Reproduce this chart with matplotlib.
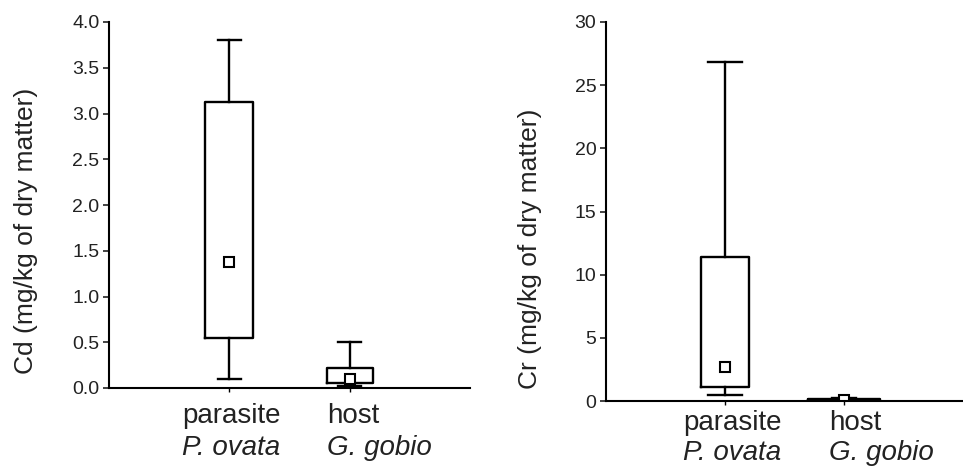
import matplotlib
matplotlib.use("Agg")
import matplotlib.pyplot as plt

plt.rcParams['font.family'] = ['Liberation Sans', 'DejaVu Sans']

# group labels
groups = ["parasite", "host"]
species = ["P. ovata", "G. gobio"]

# Cd (mg/kg dry matter): whisker low, Q1, Q3, whisker high, mean
cd_low = [0.10, 0.02]
cd_q1 = [0.55, 0.05]
cd_q3 = [3.13, 0.22]
cd_high = [3.80, 0.50]
cd_mean = [1.38, 0.10]
cd_ticks = [0.0, 0.5, 1.0, 1.5, 2.0, 2.5, 3.0, 3.5, 4.0]

# Cr (mg/kg dry matter)
cr_low = [0.5, 0.02]
cr_q1 = [1.1, 0.05]
cr_q3 = [11.4, 0.15]
cr_high = [26.8, 0.20]
cr_mean = [2.7, 0.10]
cr_ticks = [0, 5, 10, 15, 20, 25, 30]

W, H = 963, 466
fig = plt.figure(figsize=(W / 100, H / 100), dpi=100)


def make_stats(low, q1, q3, high, mean):
    stats = []
    for i in range(len(low)):
        stats.append(dict(whislo=low[i], q1=q1[i], med=mean[i], q3=q3[i],
                          whishi=high[i], mean=mean[i], fliers=[]))
    return stats


def draw_panel(rect, stats, ticks, ylim, widths, capw, fmt, ylabel, lab_xy, text_x, text_y):
    ax = fig.add_axes(rect)
    lw = 1.7
    ax.bxp(stats, positions=[1, 2], widths=widths, capwidths=capw,
           showmeans=True, showfliers=False,
           boxprops=dict(color='black', linewidth=lw),
           whiskerprops=dict(color='black', linewidth=lw),
           capprops=dict(color='black', linewidth=lw),
           medianprops=dict(linewidth=0),
           meanprops=dict(marker='s', markerfacecolor='white', markeredgecolor='black',
                          markersize=7, markeredgewidth=1.5))
    ax.set_xlim(0, 3)
    ax.set_ylim(*ylim)
    ax.set_yticks(ticks)
    ax.set_yticklabels([fmt.format(t) for t in ticks])
    ax.set_xticks([1, 2])
    ax.set_xticklabels(["", ""])
    ax.spines['top'].set_visible(False)
    ax.spines['right'].set_visible(False)
    ax.spines['left'].set_linewidth(1.5)
    ax.spines['bottom'].set_linewidth(1.5)
    ax.tick_params(axis='y', direction='out', length=4, width=1.2, labelsize=14,
                   pad=3, colors='#222222')
    ax.tick_params(axis='x', direction='out', length=3, width=1.0)
    for i in range(len(groups)):
        ax.text(text_x[i], text_y[0], groups[i], transform=ax.get_xaxis_transform(),
                ha='left', va='baseline', fontsize=20, color='#222222')
        ax.text(text_x[i], text_y[1], species[i], transform=ax.get_xaxis_transform(),
                ha='left', va='baseline', fontsize=20, style='italic', color='#222222')
    fig.text(lab_xy[0] / W, 1 - lab_xy[1] / H, ylabel, rotation=90, ha='center',
             va='center', fontsize=19, color='#222222')
    return ax


# left panel: axis x 109..470 px, y 22..388 px
draw_panel([109 / W, 1 - 388 / H, 361 / W, 366 / H],
           make_stats(cd_low, cd_q1, cd_q3, cd_high, cd_mean),
           cd_ticks, (0, 4.0), [0.40, 0.38], [0.19, 0.19], "{:.1f}",
           "Cd (mg/kg of dry matter)", (26, 231),
           [0.607, 1.812], [-(423 - 388) / 366, -(455 - 388) / 366])

# right panel: axis x 606..963 px, y 22..401 px
draw_panel([606 / W, 1 - 401 / H, 357 / W, 379 / H],
           make_stats(cr_low, cr_q1, cr_q3, cr_high, cr_mean),
           cr_ticks, (0, 30), [0.41, 0.60], [0.28, 0.2], "{:d}",
           "Cr (mg/kg of dry matter)", (530, 249),
           [0.647, 1.874], [-(430 - 401) / 379, -(460 - 401) / 379])

fig.savefig("out.png", dpi=100)
